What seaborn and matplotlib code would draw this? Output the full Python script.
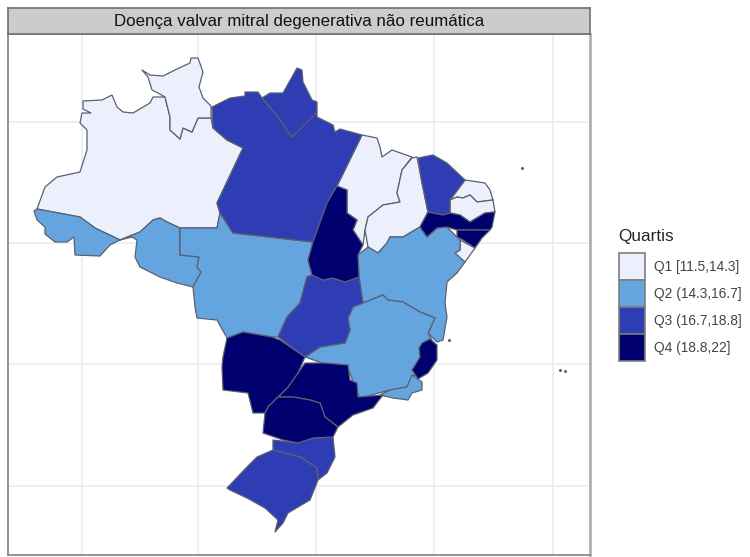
import matplotlib
matplotlib.use("Agg")
import matplotlib.pyplot as plt
from matplotlib.patches import Patch
import pandas as pd
import seaborn as sns

AMAZONAS = [(83,101),(102,100),(112,95),(117,107),(123,112),(133,113),(150,103),(153,97),(165,97),(170,117),(170,130),(180,139),(183,128),(192,132),(198,118),(211,118),(213,128),(227,140),(243,148),(217,203),(220,213),(217,228),(180,228),(167,222),(160,218),(153,220),(140,232),(120,240),(95,228),(80,217),(37,209),(45,187),(57,177),(80,172),(87,150),(87,130),(80,123),(82,113),(91,113),(83,109)]
RORAIMA = [(142,70),(150,75),(163,76),(177,69),(190,63),(191,58),(198,58),(203,72),(199,87),(203,98),(211,106),(211,118),(198,118),(192,132),(183,128),(180,139),(170,130),(170,117),(165,97),(158,93),(152,90),(148,77)]
ACRE = [(34,211),(37,209),(80,217),(95,228),(120,240),(110,245),(100,256),(75,255),(74,237),(67,242),(55,242),(45,234),(45,227),(37,220)]
RONDONIA = [(120,240),(140,232),(153,220),(160,218),(167,222),(180,228),(180,255),(199,257),(197,267),(201,272),(193,287),(177,283),(160,277),(140,267),(135,257),(137,240),(132,237)]
PARA = [(243,148),(227,140),(213,128),(212,107),(230,98),(245,96),(245,92),(258,92),(262,98),(278,117),(292,137),(317,112),(317,117),(333,125),(335,132),(340,129),(362,135),(337,186),(327,203),(313,242),(233,233),(220,213),(217,203)]
AMAPA = [(262,98),(270,93),(283,93),(297,68),(302,70),(303,82),(312,100),(317,102),(317,112),(292,137),(278,117)]
TOCANTINS = [(337,186),(347,190),(347,213),(357,220),(353,230),(363,245),(358,255),(359,277),(345,282),(333,278),(323,280),(312,275),(308,260),(313,242),(327,203)]
MARANHAO = [(337,186),(362,135),(377,138),(380,147),(382,157),(392,150),(412,157),(402,170),(397,193),(400,202),(383,205),(368,217),(365,230),(363,245),(353,230),(357,220),(347,213),(347,190)]
PIAUI = [(412,158),(417,157),(422,183),(428,212),(420,227),(403,237),(390,237),(387,243),(378,253),(368,247),(365,230),(368,217),(383,205),(400,202),(397,193),(402,170)]
CEARA = [(418,158),(433,155),(447,163),(465,180),(450,200),(450,213),(443,215),(428,212),(422,183)]
RIO_G_NORTE = [(465,180),(485,183),(490,190),(493,200),(477,202),(470,195),(463,198),(457,197),(450,200)]
PARAIBA = [(450,200),(457,197),(463,198),(470,195),(477,202),(493,200),(495,212),(485,213),(470,222),(460,215),(450,213)]
PERNAMBUCO = [(428,212),(443,215),(450,213),(460,215),(470,222),(485,213),(495,212),(492,227),(490,230),(473,230),(457,230),(447,227),(437,228),(427,237),(420,227)]
ALAGOAS = [(457,230),(473,230),(490,230),(482,238),(475,248),(463,240),(457,237)]
SERGIPE = [(460,240),(475,248),(465,262),(457,257),(455,253),(460,250)]
BAHIA = [(358,255),(368,247),(378,253),(387,243),(390,237),(403,237),(420,227),(427,237),(437,228),(447,227),(457,237),(460,240),(460,250),(455,253),(465,262),(457,273),(447,282),(445,303),(447,317),(443,340),(437,342),(428,333),(435,318),(420,312),(403,302),(388,300),(383,295),(363,303),(359,277)]
GOIAS = [(312,275),(323,280),(333,278),(345,282),(359,277),(363,303),(353,307),(348,318),(350,330),(345,343),(320,347),(305,357),(278,337),(287,317),(300,303),(307,277)]
DISTRITO_FED = [(337,311),(347,311),(347,316),(337,316)]
MINAS = [(363,303),(383,295),(388,300),(403,302),(420,312),(435,318),(428,333),(432,340),(423,350),(420,370),(413,377),(407,387),(390,390),(360,398),(355,387),(348,368),(328,365),(305,357),(320,347),(345,343),(350,330),(348,318),(353,307)]
ESPIRITO_SANTO = [(422,343),(430,339),(437,345),(437,360),(428,373),(418,379),(412,370),(420,357),(419,348)]
RIO = [(412,375),(422,382),(422,390),(412,393),(408,400),(393,398),(380,395),(390,390),(407,387)]
SAO_PAULO = [(305,363),(325,363),(348,365),(350,380),(357,383),(358,397),(383,395),(373,408),(353,415),(338,427),(325,417),(320,403),(310,400),(293,397),(278,397),(288,387),(298,373)]
MATO_G_SUL = [(227,338),(243,332),(272,337),(280,340),(305,357),(298,373),(288,387),(278,397),(268,407),(265,413),(253,413),(248,393),(223,390),(222,367),(223,357)]
MATO_GROSSO = [(220,213),(233,233),(313,242),(308,260),(312,275),(307,277),(300,303),(287,317),(278,337),(272,337),(243,332),(227,338),(217,320),(197,318),(195,307),(193,287),(201,272),(197,267),(199,257),(180,255),(180,228),(217,228)]
PARANA = [(265,413),(268,407),(278,397),(293,397),(310,400),(320,403),(325,417),(338,427),(333,437),(313,438),(298,443),(283,440),(263,433)]
SANTA_CATARINA = [(273,440),(298,443),(313,438),(333,437),(335,457),(327,473),(318,480),(317,468),(300,457),(273,450)]
RIO_G_SUL = [(273,450),(300,457),(317,468),(318,480),(310,500),(288,513),(283,523),(275,532),(278,520),(265,508),(247,498),(230,490),(227,488),(247,467),(257,457)]

ISLANDS_X = [522, 449, 560, 565]
ISLANDS_Y = [168, 340, 370, 371]

GRID_X = [82, 198, 316, 434, 553]
GRID_Y = [122, 243, 364, 486]

QUARTILES = ["Q1 [11.5,14.3]", "Q2 (14.3,16.7]", "Q3 (16.7,18.8]", "Q4 (18.8,22]"]
COLORS = ["#EBF0FC", "#64A5E0", "#2F3DB5", "#00006E"]
STATE_GROUPS = [
    (0, [AMAZONAS, RORAIMA, MARANHAO, PIAUI, RIO_G_NORTE, PARAIBA, SERGIPE]),
    (1, [ACRE, RONDONIA, MATO_GROSSO, BAHIA, MINAS, RIO, DISTRITO_FED]),
    (2, [PARA, AMAPA, CEARA, GOIAS, SANTA_CATARINA, RIO_G_SUL]),
    (3, [TOCANTINS, PERNAMBUCO, ALAGOAS, ESPIRITO_SANTO, SAO_PAULO, MATO_G_SUL, PARANA]),
]
TITLE = "Doença valvar mitral degenerativa não reumática"

sns.set_theme(style="white")
plt.rcParams["font.family"] = ["Liberation Sans", "DejaVu Sans"]
palette = sns.color_palette(COLORS)

W, H = 750, 557
fig = plt.figure(figsize=(W / 100, H / 100), dpi=100)
ax = fig.add_axes([8 / W, (H - 555) / H, 582 / W, 521 / H])
strip = fig.add_axes([8 / W, (H - 34) / H, 582 / W, 26 / H])

for x in GRID_X:
    ax.axvline(x, color="#EBEBEB", lw=1.2, zorder=0)
for y in GRID_Y:
    ax.axhline(y, color="#EBEBEB", lw=1.2, zorder=0)

for idx, group in STATE_GROUPS:
    for outline in group:
        xs, ys = zip(*outline)
        ax.fill(xs, ys, facecolor=palette[idx], edgecolor="#5a6070", lw=0.9, zorder=2, joinstyle="round")

islands = pd.DataFrame({"x": ISLANDS_X, "y": ISLANDS_Y})
sns.scatterplot(data=islands, x="x", y="y", ax=ax, s=5, color="#666666", linewidth=0, zorder=3)

ax.set_xlim(8, 590)
ax.set_ylim(555, 34)
ax.set_xticks([])
ax.set_yticks([])
ax.set_xlabel("")
ax.set_ylabel("")
for s in ax.spines.values():
    s.set_color("#8a8a8a")
    s.set_linewidth(1.3)
ax.spines["right"].set_color("#b0b0b0")
ax.spines["right"].set_linewidth(2)

strip.set_facecolor("#CCCCCC")
strip.set_xticks([])
strip.set_yticks([])
for s in strip.spines.values():
    s.set_color("#777777")
    s.set_linewidth(1.3)
strip.text(0.5, 0.47, TITLE, transform=strip.transAxes, ha="center", va="center", fontsize=12.2, color="#111111")

handles = [Patch(facecolor=c, edgecolor="#7f7f7f", linewidth=1.2) for c in palette]
leg = fig.legend(handles, QUARTILES, title="Quartis", loc="upper left",
                 bbox_to_anchor=(613 / W, (H - 224) / H), frameon=False,
                 fontsize=9.9, title_fontsize=12.3, handlelength=1.9, handleheight=2.65,
                 labelspacing=0, handletextpad=0.65, borderaxespad=0)
leg._legend_box.align = "left"
leg._legend_box.sep = 6
for t in leg.get_texts():
    t.set_color("#444444")

fig.savefig("out.png", dpi=100)
